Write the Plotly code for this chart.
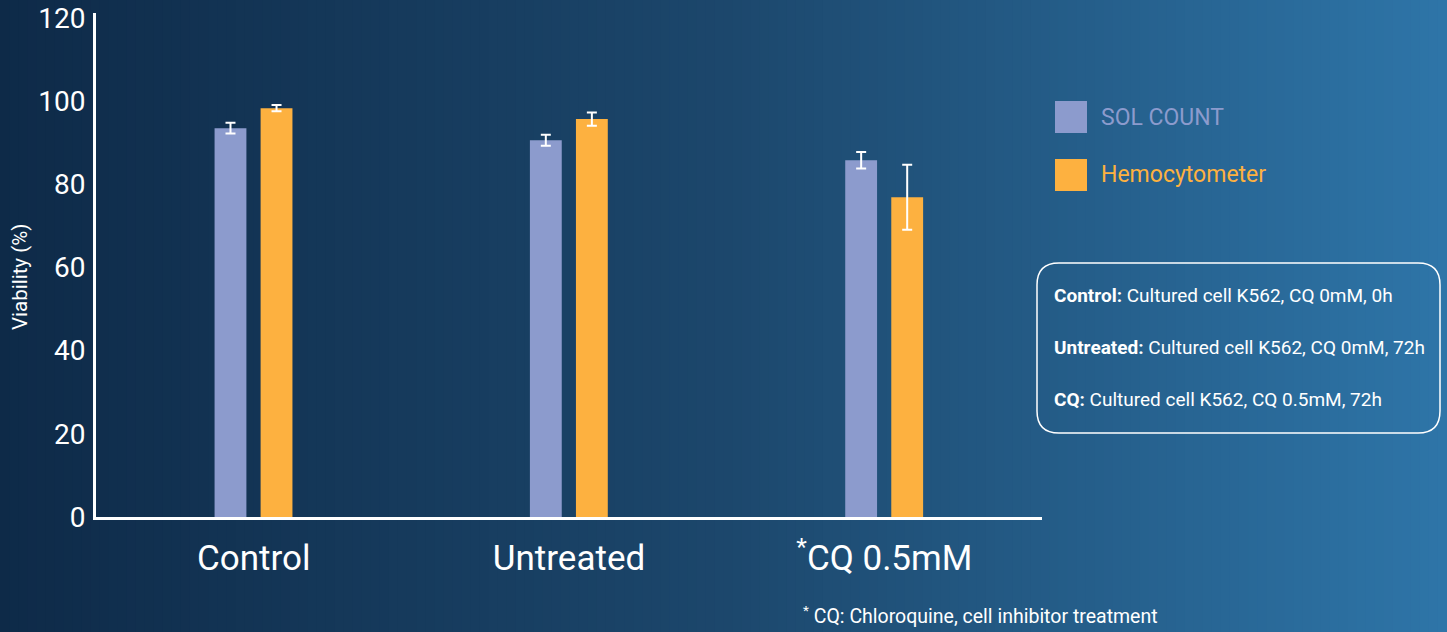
import plotly.graph_objects as go

# ---------------- data ----------------
categories = ["Control", "Untreated", "CQ 0.5mM"]
category_labels = ["Control", "Untreated", "<sup>*</sup>CQ 0.5mM"]
sol_count = [93.5, 90.6, 85.8]
sol_count_err = [1.3, 1.3, 2.0]
hemocytometer = [98.3, 95.7, 76.9]
hemocytometer_err = [0.75, 1.6, 7.8]
y_ticks = [0, 20, 40, 60, 80, 100, 120]
y_title = "Viability (%)"
series_names = ["SOL COUNT", "Hemocytometer"]
notes = [
    ("Control:", "Cultured cell K562, CQ 0mM, 0h"),
    ("Untreated:", "Cultured cell K562, CQ 0mM, 72h"),
    ("CQ:", "Cultured cell K562, CQ 0.5mM, 72h"),
]
footnote = "<sup>*</sup> CQ: Chloroquine, cell inhibitor treatment"

# ---------------- style ----------------
W, H = 1447, 632
ML, MR, MT, MB = 96, W - 1042, 13, H - 517
PW, PH = W - ML - MR, H - MT - MB
FONT = "Roboto"
SOL_COLOR = "#8c9bcd"
HEMO_COLOR = "#fdb140"
GRAD = ["#0e2a48", "#1c476c", "#2e75a8"]


def px(x):
    return (x - ML) / PW


def py(y):
    return (H - MB - y) / PH


fig = go.Figure()
fig.add_trace(go.Bar(
    x=categories, y=sol_count, name=series_names[0],
    marker=dict(color=SOL_COLOR, line=dict(width=0)),
    width=0.101, offset=-0.124,
    error_y=dict(type="data", array=sol_count_err, color="white", thickness=2, width=5),
    showlegend=False, hoverinfo="skip",
))
fig.add_trace(go.Bar(
    x=categories, y=hemocytometer, name=series_names[1],
    marker=dict(color=HEMO_COLOR, line=dict(width=0)),
    width=0.101, offset=0.022,
    error_y=dict(type="data", array=hemocytometer_err, color="white", thickness=2, width=5),
    showlegend=False, hoverinfo="skip",
))


# gradient background (vertical strips)
def lerp(c1, c2, t):
    return tuple(round(a + (b - a) * t) for a, b in zip(c1, c2))


def hex2rgb(h):
    h = h.lstrip("#")
    return tuple(int(h[i:i + 2], 16) for i in (0, 2, 4))


stops = [(0.0, hex2rgb(GRAD[0])), (0.5, hex2rgb(GRAD[1])), (1.0, hex2rgb(GRAD[2]))]


def grad(t):
    for (t0, c0), (t1, c1) in zip(stops[:-1], stops[1:]):
        if t <= t1:
            return lerp(c0, c1, (t - t0) / (t1 - t0))
    return stops[-1][1]


shapes = []
N = 160
for i in range(N):
    x0 = W * i / N
    x1 = W * (i + 1) / N + 1
    c = grad((i + 0.5) / N)
    shapes.append(dict(type="rect", xref="paper", yref="paper", layer="below",
                       x0=px(x0), x1=px(x1), y0=py(H + 20), y1=py(-20),
                       fillcolor="rgb(%d,%d,%d)" % c, line=dict(width=0)))

# legend squares
for i, col in enumerate([SOL_COLOR, HEMO_COLOR]):
    top = 101 + i * 58
    shapes.append(dict(type="rect", xref="paper", yref="paper",
                       x0=px(1055), x1=px(1087), y0=py(top + 32), y1=py(top),
                       fillcolor=col, line=dict(width=0)))

# rounded info box
bx0, bx1, by0, by1, r = 1037, 1440, 263, 433, 22
path = (f"M {px(bx0 + r)} {py(by0)} L {px(bx1 - r)} {py(by0)} "
        f"Q {px(bx1)} {py(by0)} {px(bx1)} {py(by0 + r)} "
        f"L {px(bx1)} {py(by1 - r)} Q {px(bx1)} {py(by1)} {px(bx1 - r)} {py(by1)} "
        f"L {px(bx0 + r)} {py(by1)} Q {px(bx0)} {py(by1)} {px(bx0)} {py(by1 - r)} "
        f"L {px(bx0)} {py(by0 + r)} Q {px(bx0)} {py(by0)} {px(bx0 + r)} {py(by0)} Z")
shapes.append(dict(type="path", xref="paper", yref="paper", path=path,
                   line=dict(color="white", width=1.5), fillcolor="rgba(0,0,0,0)"))

annotations = []
for i, (name, col) in enumerate(zip(series_names, [SOL_COLOR, HEMO_COLOR])):
    annotations.append(dict(xref="paper", yref="paper", x=px(1099), y=py(117 + i * 58),
                            xanchor="left", yanchor="middle", showarrow=False,
                            text=name, font=dict(family=FONT, size=23, color=col)))
for i, (head, body) in enumerate(notes):
    annotations.append(dict(xref="paper", yref="paper", x=px(1052), y=py([295, 347, 400][i]),
                            xanchor="left", yanchor="middle", showarrow=False,
                            text=f"<b>{head}</b> {body}",
                            font=dict(family=FONT, size=19, color="white")))
annotations.append(dict(xref="paper", yref="paper", x=px(801), y=py(615),
                        xanchor="left", yanchor="middle", showarrow=False,
                        text=footnote, font=dict(family=FONT, size=19.5, color="white")))
annotations.append(dict(xref="paper", yref="paper", x=px(20), y=py(277),
                        xanchor="center", yanchor="middle", showarrow=False, textangle=-90,
                        text=y_title, font=dict(family=FONT, size=20.5, color="white")))

fig.update_layout(
    width=W, height=H,
    margin=dict(l=ML, r=MR, t=MT, b=MB, pad=0, autoexpand=False),
    paper_bgcolor=GRAD[0],
    plot_bgcolor="rgba(0,0,0,0)",
    font=dict(family=FONT, color="white"),
    barmode="group",
    hovermode=False,
    shapes=shapes,
    annotations=annotations,
    xaxis=dict(
        range=[-0.5, 2.5], showgrid=False, zeroline=False, automargin=False,
        showline=True, linecolor="white", linewidth=3, fixedrange=True,
        tickmode="array", tickvals=categories, ticktext=category_labels,
        ticks="", tickfont=dict(family=FONT, size=35, color="white"),
        ticklabelstandoff=8,
    ),
    yaxis=dict(
        range=[0, 121.2], showgrid=False, zeroline=False, automargin=False,
        showline=True, linecolor="white", linewidth=3, fixedrange=True,
        tickmode="array", tickvals=y_ticks, ticks="",
        tickfont=dict(family=FONT, size=28, color="white"),
        ticklabelstandoff=2,
    ),
)

fig.write_html(
    "out.html",
    config={"displayModeBar": False, "staticPlot": True},
    post_script=("document.body.style.margin='0';document.body.style.overflow='hidden';"
                 "document.body.style.background='linear-gradient(to right,%s,%s,%s)';"
                 % tuple(GRAD)),
)
